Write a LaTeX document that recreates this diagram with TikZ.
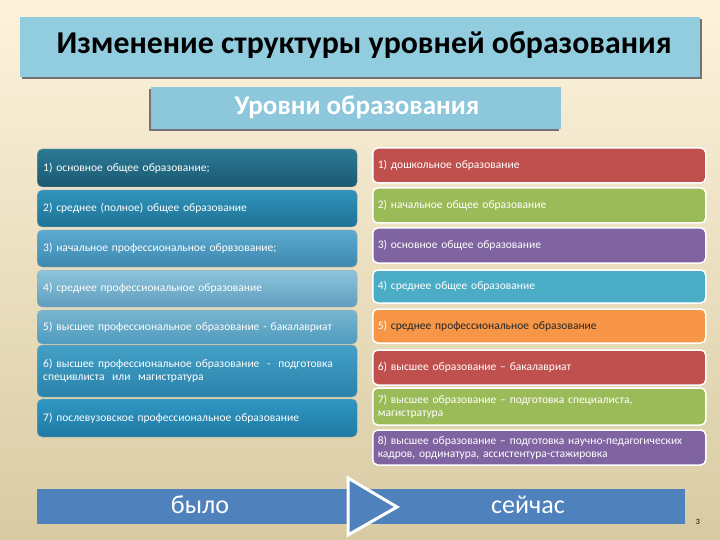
\documentclass[tikz,border=0pt]{standalone}
\usepackage{fontspec}
\setmainfont{Carlito}
\usepackage{tikz}
\usetikzlibrary{positioning, calc, backgrounds}

\definecolor{bgtop}{RGB}{253,243,220}
\definecolor{bgbot}{RGB}{216,203,163}
\definecolor{titlefill}{RGB}{146,204,223}
\definecolor{subfill}{RGB}{141,199,220}
\definecolor{barblue}{RGB}{79,129,189}
\definecolor{cred}{RGB}{192,80,77}
\definecolor{cgreen}{RGB}{155,187,89}
\definecolor{cpurple}{RGB}{128,100,162}
\definecolor{caqua}{RGB}{75,172,198}
\definecolor{corange}{RGB}{247,150,70}

\begin{document}
\begin{tikzpicture}[
    x=1pt, y=-1pt,
    every node/.style={font=\fontsize{11.5}{13}\selectfont},
    lbox/.style={rectangle, rounded corners=5pt, draw=black!35, thin, anchor=west, minimum width=320pt, text width=308pt, align=left, inner xsep=6pt, text=white},
    rbox/.style={rectangle, rounded corners=5pt, draw=white, line width=1.5pt, anchor=west, minimum width=333pt, text width=323pt, align=left, inner xsep=5pt, fill=#1, text=white},
    bigtext/.style={font=\fontsize{26}{30}\selectfont, text=white}
]
\useasboundingbox (0,0) rectangle (720,540);
\shade[top color=bgtop, bottom color=bgbot] (0,0) rectangle (720,540);

% --- Title ---
\fill[black!55] (22,19) rectangle (702,79);
\node[rectangle, fill=titlefill, anchor=north west, minimum width=680pt, minimum height=60pt] (titlebar) at (20,17) {};
\node[anchor=west, font=\fontsize{31.8}{35}\selectfont\bfseries] (title) at (53,45) {Изменение структуры уровней образования};

\fill[black!55] (149,89) rectangle (559,131);
\node[rectangle, fill=subfill, anchor=north west, minimum width=410pt, minimum height=42pt] (subbar) at (151,87) {};
\node[font=\fontsize{27}{30}\selectfont\bfseries, text=white] (subtitle) at (357,107) {Уровни образования};

% --- Left column: было ---
\node[lbox, minimum height=38pt, top color={rgb,255:red,43;green,122;blue,150}, bottom color={rgb,255:red,27;green,88;blue,112}] (old1) at (37,168) {1) основное общее образование;};
\node[lbox, minimum height=37pt, top color={rgb,255:red,48;green,148;blue,188}, bottom color={rgb,255:red,30;green,114;blue,148}] (old2) at (37,208.5) {2) среднее (полное) общее образование};
\node[lbox, minimum height=37pt, top color={rgb,255:red,92;green,170;blue,208}, bottom color={rgb,255:red,62;green,136;blue,174}] (old3) at (37,248.5) {3) начальное профессиональное обрвзование;};
\node[lbox, minimum height=37pt, top color={rgb,255:red,142;green,196;blue,220}, bottom color={rgb,255:red,95;green,158;blue,189}] (old4) at (37,288.5) {4) среднее профессиональное образование};
\node[lbox, minimum height=34pt, top color={rgb,255:red,122;green,181;blue,207}, bottom color={rgb,255:red,78;green,155;blue,190}] (old5) at (37,327) {5) высшее профессиональное образование - бакалавриат};
\node[lbox, minimum height=52pt, top color={rgb,255:red,67;green,160;blue,198}, bottom color={rgb,255:red,42;green,130;blue,170}] (old6) at (37,371) {6) высшее профессиональное образование \ - \ подготовка\\специвлиста \ или \ магистратура};
\node[lbox, minimum height=38pt, top color={rgb,255:red,47;green,151;blue,194}, bottom color={rgb,255:red,31;green,122;blue,163}] (old7) at (37,418) {7) послевузовское профессиональное образование};

% --- Right column: сейчас ---
\node[rbox=cred, minimum height=35pt] (new1) at (372,165.5) {1) дошкольное образование};
\node[rbox=cgreen, minimum height=35pt] (new2) at (372,205.5) {2) начальное общее образование};
\node[rbox=cpurple, minimum height=35pt] (new3) at (372,245.5) {3) основное общее образование};
\node[rbox=caqua, minimum height=33pt] (new4) at (372,286.5) {4) среднее общее образование};
\node[rbox=corange, minimum height=34pt] (new5) at (372,326) {5) \textcolor{black!85}{среднее профессиональное образование}};
\node[rbox=cred, minimum height=35pt] (new6) at (372,367.5) {6) высшее образование -- бакалавриат};
\node[rbox=cgreen, minimum height=37pt] (new7) at (372,406.5) {7) высшее образование -- подготовка специалиста,\\магистратура};
\node[rbox=cpurple, minimum height=35pt] (new8) at (372,447.5) {8) высшее образование -- подготовка научно-педагогических\\кадров, ординатура, ассистентура-стажировка};

% --- Bottom bar ---
\node[rectangle, fill=barblue, anchor=north west, minimum width=648pt, minimum height=35pt] (bar) at (37,489) {};
\node[bigtext] (was) at (200,505) {было};
\node[bigtext] (now) at (528,505) {сейчас};
\coordinate (tA) at (348,478);
\coordinate (tB) at (348,535);
\coordinate (tC) at (397,507);
\draw[draw=white, line width=3pt, fill=barblue, line join=miter] (tA) -- (tC) -- (tB) -- cycle;

\node[font=\fontsize{8}{9}\selectfont] (pagenum) at (698,522) {3};
\end{tikzpicture}
\end{document}
